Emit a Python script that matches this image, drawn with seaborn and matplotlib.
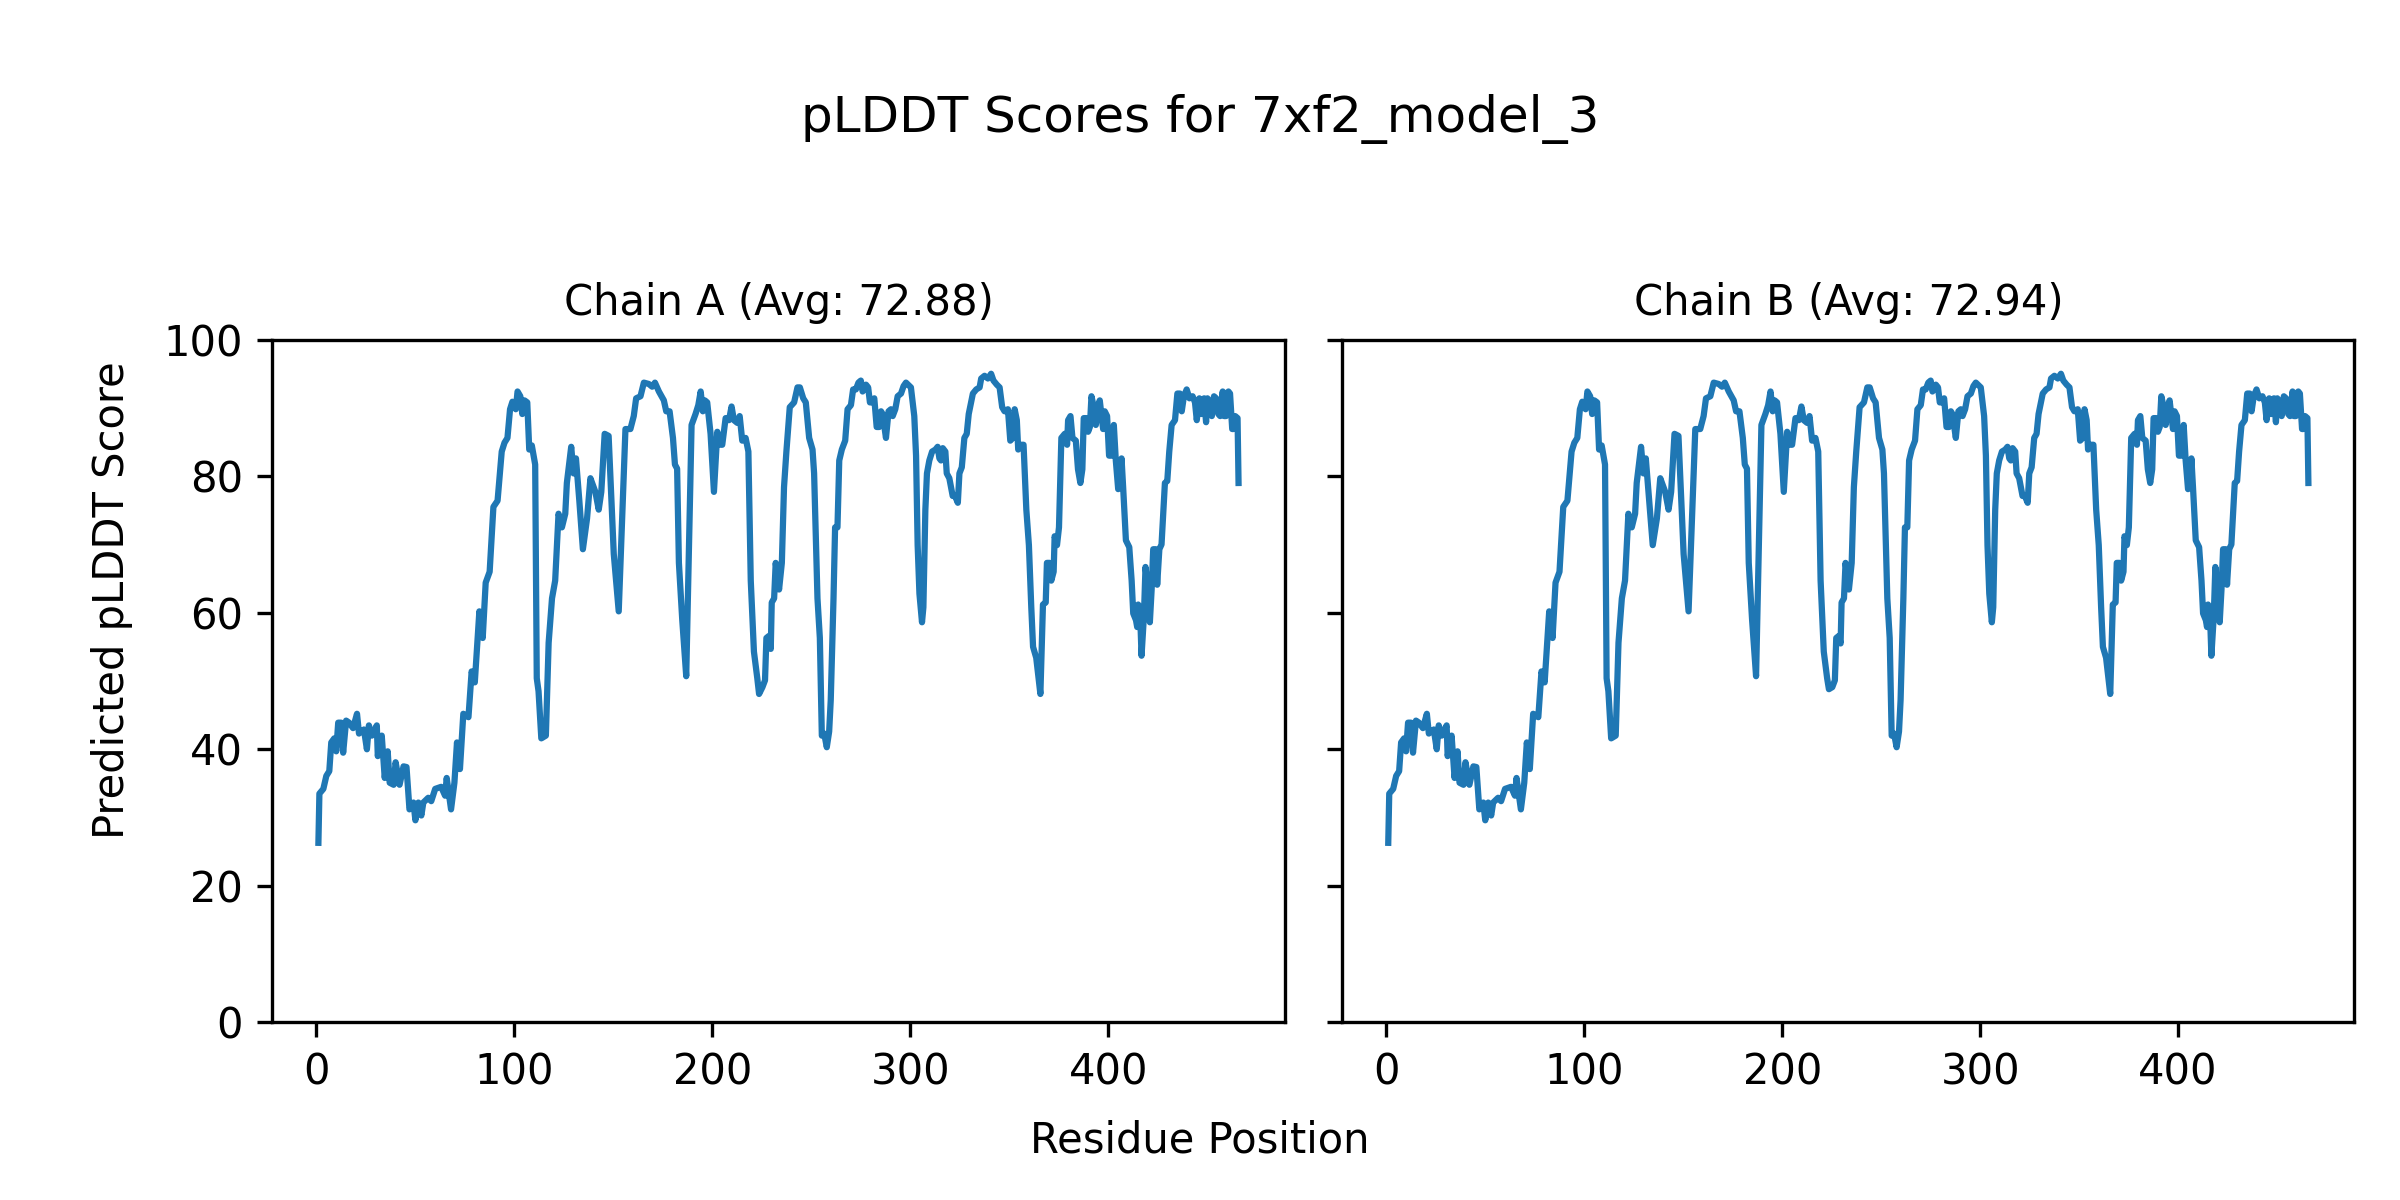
import matplotlib
matplotlib.use("Agg")
import matplotlib.pyplot as plt
import seaborn as sns
import pandas as pd

model_name = "7xf2_model_3"
chain_ids = ["A", "B"]
chain_avgs = [72.88, 72.94]

# residue positions and pLDDT values (chain A)
residue_a = [
    1, 1.5, 3.5, 5, 6.5, 7.5, 9, 10, 11, 12.5, 13.5, 15, 16.5, 18.5, 20.5, 21.5, 24, 25.5, 26.5, 28,
    30.5, 31, 33, 34.5, 36, 37, 39, 40, 42, 44, 45.5, 47, 49, 50, 51.5, 53, 54, 56.5, 58, 60,
    63, 65, 65.8, 68, 69.7, 71, 72.5, 74.2, 76.8, 78.4, 80, 82.3, 84, 85.5, 87.5, 89.4, 91.5, 93.6, 95, 96.5,
    97.8, 99, 100.7, 101.6, 103, 104, 105.1, 106.5, 107.5, 108.8, 110.5, 111.3, 112.2, 113.6, 115.9, 117.3, 119, 120.6, 122.3,
    124, 125.7, 126.5, 128.7, 129.9, 131.1, 132.8, 134.6, 136.7, 138.4, 140.9, 142.6, 143.9, 145.6, 147.6, 150.2, 152.7,
    156.1, 158.6, 160.3, 161.5, 163.7, 165.4, 167.9, 169.6, 171, 173, 175.5, 176.7, 178.4, 180.1, 181.1, 182.2, 183.1,
    184.8, 185.6, 186.8, 189.5, 191.5, 192.9, 194.1, 195.2, 196.2, 197.4, 199.1, 200.8, 202.5, 204.2, 205, 206.7, 208.4,
    209.7, 210.9, 212.6, 213.8, 215.1, 216.8, 218.2, 219.4, 221, 222.7, 223.6, 225.3, 226.6, 227.3, 228.6, 229.5, 230,
    231.2, 232, 233.7, 235.1, 236.2, 237.4, 239.1, 241.3, 243, 244.2, 245.9, 247.2,
    248.9, 250.6, 251.4, 253.1, 254.3, 255.3, 256.5, 257.8, 259, 259.8, 261.2, 262, 263.2, 264.1, 265.4, 267.1, 268.3,
    270, 271.1, 272.5, 273.8, 275, 275.9, 277.6, 278.7, 279.6, 280.6, 281.8, 283, 284.3, 285.2, 286, 287.7, 289,
    290.2, 291.1, 292.4, 293.6, 295.3, 296.6, 297.8, 300.3, 302, 302.9, 303.7, 304.6, 305.9, 306.6, 307.6, 308.4, 309.6,
    311, 312.7, 313.8, 314.7, 315.5, 316.4, 317.7, 318.4, 319.7, 321.4, 322.6, 324, 324.8, 326, 327.3, 328.5, 329.5,
    331.6, 333.3, 335, 335.8, 337.5, 339.2, 340.8, 342, 343.7, 345.1, 346.4, 347.6, 349.3, 350.5, 351.8, 352.7, 353.8,
    354.5, 356, 357.2, 358.6, 359.9, 361.1, 362, 363.6, 365.7, 367, 368.4, 369, 370.4, 371.2, 372.4, 372.9, 374.1, 375.1,
    376.3, 378, 379.2, 379.7, 380.9, 381.9, 383.6, 384.7, 385.9, 386.9, 387.6, 389, 389.8, 390.7, 391.5, 392.7, 393.7,
    394.9, 395.7, 396.6, 397.4, 398.2, 399.4, 400.4, 401.6, 402.8, 403.8, 405, 405.8, 406.7, 407.5, 408.9, 410.6, 411.8,
    412.6, 414, 414.6, 415.1, 416, 416.8, 418, 418.8, 419.9, 421, 421.9, 422.7, 424.1, 424.7, 425.8, 426.9, 428.6,
    429.8, 430.8, 432, 433.7, 434.9, 436.2, 437.1, 438.2, 439.6, 441, 442.6, 443.8, 444.7, 446, 447.2, 448.4, 449.4,
    450.1, 451.4, 452.3, 453.4, 454.5, 455.6, 456.5, 457.8, 458.5, 459.5, 460.7, 461.5, 462.6, 463.2, 464.1, 465.3, 465.8,
]
plddt_a = [
    26.3, 33.5, 34.2, 36.1, 36.8, 41, 41.6, 39.7, 43.9, 43.9, 39.5, 44.2, 43.9, 43.1, 45.2, 42.3, 42.9, 40, 43.5, 42,
    43.5, 39, 42, 35.8, 39.7, 35.1, 34.8, 38.1, 34.8, 37.5, 37.4, 31.2, 32.2, 29.6, 32.2, 30.3, 32.2, 32.9, 32.4, 34.2,
    34.5, 33.2, 35.8, 31.2, 35.1, 41, 37.1, 45.2, 44.7, 51.4, 49.8, 60.2, 56.3, 64.4, 66, 75.5, 76.4, 83.6, 84.9, 85.6,
    89.8, 90.9, 89.8, 92.4, 91.7, 89.1, 91.1, 90.8, 83.9, 84.5, 81.7, 50.4, 48.5, 41.6, 42, 55.6, 62.1, 64.7, 74.5,
    72.5, 74.5, 79, 84.3, 80.4, 82.6, 76.4, 69.3, 73.8, 79.7, 77.7, 75.1, 77.7, 86.2, 85.9, 68.6, 60.2,
    86.9, 86.9, 88.8, 91.4, 91.7, 93.7, 93.5, 93.1, 93.7, 92.4, 91.1, 89.5, 89.5, 85.6, 81.7, 81.1, 67.3,
    58.9, 55.6, 50.7, 87.5, 89.1, 90.4, 92.4, 89.5, 91.1, 90.8, 86.2, 77.7, 86.5, 84.6, 84.6, 88.5, 88.2,
    90.2, 88.2, 87.8, 88.8, 85.2, 85.6, 83.6, 64.7, 54.3, 50.4, 48.1, 49.1, 50.1, 56.3, 56.6, 54.7, 61.5,
    62.1, 67.3, 63.4, 67.3, 78.4, 83.6, 90.1, 90.8, 93, 93, 91.4, 90.8,
    85.6, 83.9, 80.4, 62.1, 56.3, 42, 42.3, 40.3, 42.6, 47.2, 62.1, 72.5, 72.5, 82.3, 83.9, 85.2, 89.8,
    90.4, 92.7, 92.7, 93.7, 94, 92.4, 93.4, 93, 90.8, 90.8, 91.4, 87.2, 87.2, 89.5, 89.1, 85.6, 89.5,
    89.8, 88.8, 89.8, 91.7, 92.1, 93.2, 93.7, 93, 88.8, 83, 69.9, 62.8, 58.6, 60.8, 75.1, 80.4, 82.3,
    83.6, 83.9, 84.3, 82.6, 82.3, 84.1, 83.6, 80.4, 79.7, 77.1, 77.1, 76.1, 80.4, 81.3, 85.6, 86.2, 89.1,
    92.1, 92.7, 93, 94.3, 94.7, 94.3, 95, 94, 93.4, 93, 90.1, 89.5, 89.8, 85.2, 85.6, 89.8, 88.2,
    83.9, 84.6, 84.6, 75.1, 69.9, 60.8, 55, 53.4, 48.1, 61.2, 61.5, 67.3, 67.3, 64.7, 66, 71.2, 69.9, 72.5,
    85.6, 86.2, 84.6, 88.2, 88.8, 85.6, 85.2, 81, 79, 81, 88.5, 88.5, 86.5, 87.2, 91.7, 90.1, 87.5,
    90.4, 91.1, 88.8, 86.9, 89.5, 88.8, 83, 83, 87.5, 82.3, 78.1, 78.4, 82.6, 78.4, 70.6, 69.6, 64.7,
    59.9, 58.9, 57.9, 61.2, 60.6, 53.7, 59.5, 66.7, 63.8, 58.6, 63.4, 69.3, 69.3, 64.1, 69.3, 70, 79,
    79.3, 83.6, 87.5, 88.2, 92.1, 92.1, 89.5, 91.7, 92.7, 91.4, 91.7, 90.8, 88.2, 91.4, 89.1, 91.4, 87.9,
    91.4, 90.8, 88.8, 91.7, 91.4, 89.1, 88.8, 92.4, 88.8, 88.8, 92.4, 92.1, 86.9, 86.9, 88.8, 88.5, 79,
]

# chain B is almost the same as chain A, only a few points differ slightly
residue_b = list(residue_a)
plddt_b = list(plddt_a)
plddt_b[residue_b.index(223.6)] = 48.8
plddt_b[residue_b.index(229.5)] = 55.5
plddt_b[residue_b.index(134.6)] = 69.9

chains = [
    pd.DataFrame({"residue": residue_a, "plddt": plddt_a}),
    pd.DataFrame({"residue": residue_b, "plddt": plddt_b}),
]

fig, axes = plt.subplots(1, 2, figsize=(8, 4), dpi=300, sharey=True)

for ax, df, cid, avg in zip(axes, chains, chain_ids, chain_avgs):
    sns.lineplot(data=df, x="residue", y="plddt", ax=ax, color="#1f77b4", linewidth=1.5)
    ax.set_title(f"Chain {cid} (Avg: {avg:.2f})", fontsize=10)
    ax.set_xlabel("")
    ax.set_ylabel("")
    ax.set_ylim(0, 100)
    ax.set_xticks([0, 100, 200, 300, 400])

fig.suptitle(f"pLDDT Scores for {model_name}", fontsize=12, y=0.922)
fig.supxlabel("Residue Position", y=0.032, fontsize=10)
fig.supylabel("Predicted pLDDT Score", x=0.038, fontsize=10)
fig.subplots_adjust(left=0.1135, right=0.981, top=0.717, bottom=0.148, wspace=0.057)

plt.savefig("out.png", dpi=300)
